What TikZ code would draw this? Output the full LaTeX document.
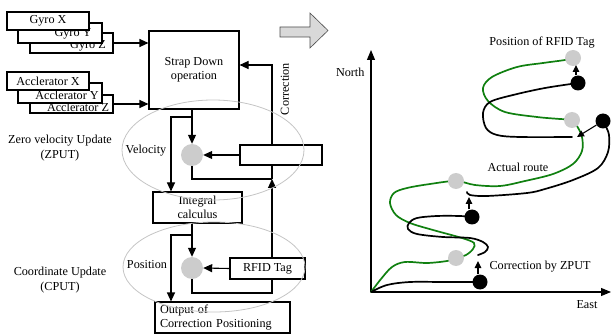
\documentclass[tikz,border=0pt]{standalone}
\usepackage{fontspec}
\setmainfont{Liberation Serif}
\usetikzlibrary{arrows.meta}
\definecolor{routegreen}{RGB}{16,128,16}
\definecolor{dotgray}{RGB}{204,204,204}
\definecolor{ellgray}{RGB}{196,196,196}
\begin{document}
\begin{tikzpicture}[x=1pt,y=-1pt, font=\fontsize{12.2}{14.5}\selectfont,
  blk/.style={draw, fill=white, line width=1.1pt, inner sep=0pt, align=center},
  arr/.style={line width=1.1pt, -{Triangle[length=9pt,width=8pt]}},
  ln/.style={line width=1.1pt},
  ell/.style={draw=ellgray, line width=0.8pt},
  dotg/.style={circle, fill=dotgray, inner sep=0pt, minimum size=16pt},
  dotb/.style={circle, fill=black, inner sep=0pt, minimum size=15pt},
  cdot/.style={circle, fill=dotgray, inner sep=0pt, minimum size=22pt},
  route/.style={line width=1.7pt, line cap=round},
  parr/.style={line width=1.1pt, -{Triangle[length=7pt,width=6.5pt]}},
  axarr/.style={line width=1.1pt, -{Triangle[length=10pt,width=8pt]}},
]
\useasboundingbox (0,0) rectangle (611,334);

% ---------- sensor boxes ----------
\node[blk, minimum width=83pt, minimum height=20pt] (gz) at (71.5,43) {};
\node (gzt) at (88,46) {Gyro Z};
\node[blk, minimum width=84pt, minimum height=20pt] (gy) at (60,33) {};
\node (gyt) at (73,34) {Gyro Y};
\node[blk, minimum width=82pt, minimum height=18pt] (gx) at (48,21) {Gyro X};

\node[blk, minimum width=83pt, minimum height=18pt] (az) at (71.5,104) {};
\node (azt) at (78,107) {Acclerator Z};
\node[blk, minimum width=84pt, minimum height=20pt] (ay) at (60,93) {};
\node (ayt) at (67,95) {Acclerator Y};
\node[blk, minimum width=82pt, minimum height=18pt] (ax) at (48,81) {Acclerator X};

% ---------- main blocks ----------
\node[blk, minimum width=90pt, minimum height=78pt] (strap) at (194,70) {Strap Down\\operation};
\node[blk, minimum width=82pt, minimum height=20pt] (vbox) at (281,155) {};
\node[blk, minimum width=89pt, minimum height=31pt] (integ) at (197.5,207.5) {Integral\\calculus};
\node[blk, minimum width=75pt, minimum height=21pt] (rfid) at (267.5,268.5) {RFID Tag};
\node[blk, minimum width=135pt, minimum height=31pt, align=left, text width=125pt] (out) at (222.5,317.5) {Output of\\Correction Positioning};
\node[cdot] (c1) at (192,155) {};
\node[cdot] (c2) at (192,268) {};

\draw[arr] (gz.east) -- (gz.east -| strap.west);
\draw[arr] (az.east) -- (az.east -| strap.west);

\coordinate (k1) at (272,65);
\coordinate (k2) at (272,179);
\coordinate (k3) at (272,293);
\coordinate (b1) at (192,117);
\coordinate (b1l) at (171,117);
\coordinate (b2) at (192,235);
\coordinate (b2l) at (171,235);

\draw[arr] (vbox.north -| k1) -- (k1) -- (strap.east |- k1);
\draw[ln] (vbox.south -| k2) -- (k2);
\draw[arr] (rfid.north -| k2) -- (k2);
\draw[ln] (c1.south) |- (k2);
\draw[arr] (vbox.west) -- (c1.east);
\draw[arr] (c1 |- strap.south) -- (c1.north);
\draw[arr] (b1) -- (b1l) -- (b1l |- integ.north);

\draw[arr] (c2 |- integ.south) -- (c2.north);
\draw[arr] (b2) -- (b2l) -- (b2l |- out.north);
\draw[arr] (rfid.west) -- (c2.east);
\draw[ln] (c2.south) |- (k3) -- (rfid.south -| k3);

\node[rotate=90] (corr) at (285,89) {Correction};
\node[align=center] (zput) at (60,148) {Zero velocity Update\\(ZPUT)};
\node[align=center] (cput) at (60,280) {Coordinate Update\\(CPUT)};
\node (vel) at (146,151) {Velocity};
\node (pos) at (147,265) {Position};

\draw[ell] (213,150) ellipse [x radius=91pt, y radius=50pt];
\draw[ell] (214,267) ellipse [x radius=91pt, y radius=45pt];

% ---------- big arrow ----------
\draw[draw=gray!60!black, fill=gray!30, line width=0.6pt]
  (280,27) -- (310,27) -- (310,13) -- (328,30.5) -- (310,48) -- (310,37) -- (280,37) -- cycle;

% ---------- plot ----------
\coordinate (O) at (371,292);
\coordinate (N) at (371,50);
\coordinate (E) at (611,292);
\draw[axarr] (O) -- (N);
\draw[axarr] (O) -- (E);
\node[anchor=east] (north) at (368,72) {North};
\node (east) at (587,305) {East};

\draw[route, routegreen] plot[smooth, tension=0.55] coordinates {
  (371,292) (381,279) (392,267) (405,262) (427,263) (447,261) (456,258)
  (466,255) (473,249) (474,243) (462,238) (433,230) (410,223) (396,215)
  (390,203) (394,193) (407,188) (430,184) (456,181) (475,185) (500,186)
  (525,181) (553,174) (573,164) (582,151) (582,137) (577,126) (572,120)
  (560,119) (537,117) (505,112) (488,101) (483,88) (492,77) (517,67)
  (543,63) (565,60) (573,58)};

\draw[route] plot[smooth, tension=0.55] coordinates {
  (371,292) (387,285) (410,282) (443,282) (473,282)};
\draw[route] plot[smooth, tension=0.55] coordinates {
  (478,255) (485,252) (488,247) (483,242) (470,238) (443,237) (417,234)
  (408,229) (409,223) (417,218) (437,216) (460,216) (472,217)};
\draw[route] plot[smooth, tension=0.55] coordinates {
  (467,192) (470,195) (487,196) (527,193) (545,189) (573,180) (598,168)
  (608,152) (609,135) (605,125)};
\draw[route] plot[smooth, tension=0.55] coordinates {
  (572,137) (520,137) (497,135) (486,128) (483,113) (490,102) (513,95)
  (545,88) (578,83)};

\node[dotg] (g1) at (573,58) {};
\node[dotg] (g2) at (572,120) {};
\node[dotg] (g3) at (456,181) {};
\node[dotg] (g4) at (456,258) {};
\node[dotb] (d1) at (578,83) {};
\node[dotb] (d2) at (603,121) {};
\node[dotb] (d3) at (472,217) {};
\node[dotb] (d4) at (480,282) {};

\coordinate (t1) at (576,65);
\coordinate (t2) at (577,137);
\coordinate (t3) at (469,197);
\coordinate (t4) at (478,261);
\draw[parr] (d1.north -| t1) -- (t1);
\draw[parr] (d2) -- (t2);
\draw[parr] (d3.north -| t3) -- (t3);
\draw[parr] (d4.north -| t4) -- (t4);

\node (lrfid) at (542,43) {Position of RFID Tag};
\node (lact) at (518,167) {Actual route};
\node[anchor=west] (lcor) at (486,267) {Correction by ZPUT};
\end{tikzpicture}
\end{document}
